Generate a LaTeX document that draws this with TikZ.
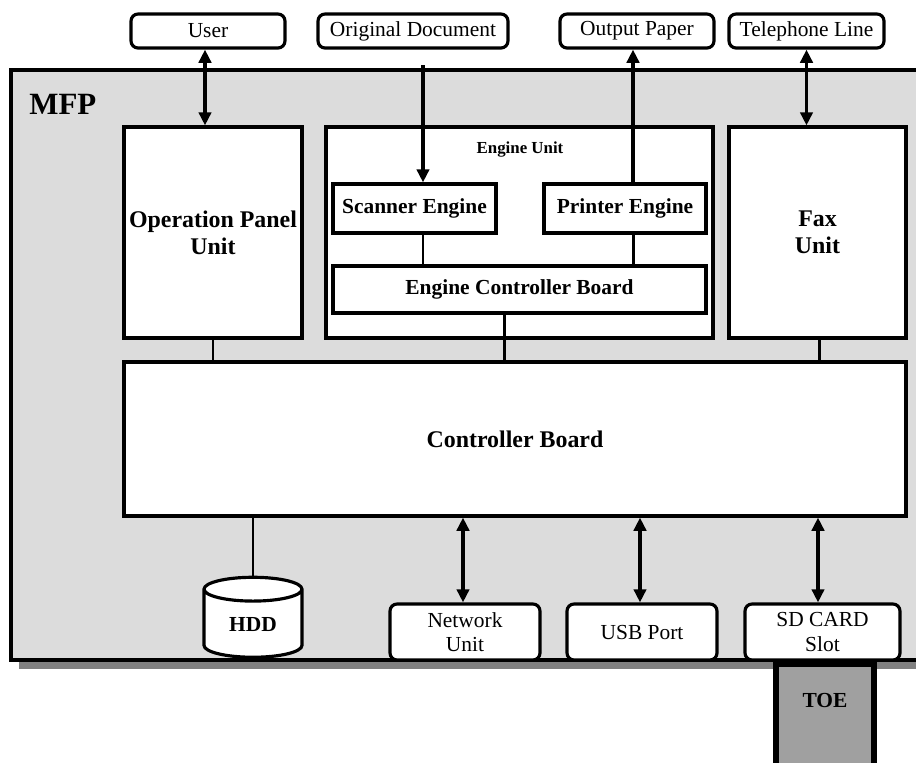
\documentclass[tikz,border=0pt]{standalone}
\usepackage{fontspec}
\setmainfont{Liberation Serif}
\usetikzlibrary{shapes.geometric,arrows.meta}

\definecolor{housingfill}{HTML}{DCDCDC}
\definecolor{shadowgray}{HTML}{808080}
\definecolor{toegray}{HTML}{A0A0A0}

\tikzset{
  box/.style={draw, line width=1.8pt, fill=white, inner sep=0pt, align=center},
  ext/.style={draw, line width=1.8pt, fill=white, rounded corners=4pt, inner sep=0pt,
    align=center, font=\fontsize{12.2}{13.7}\selectfont},
  lbl/.style={font=\bfseries\fontsize{12.2}{14}\selectfont},
  big/.style={font=\bfseries\fontsize{13.6}{15.4}\selectfont},
  tip/.tip={Triangle[length=7.5pt,width=7pt]},
  arr/.style={line width=2pt, -tip},
  dbl/.style={line width=2pt, tip-tip},
  link/.style={line width=1.7pt},
}

\begin{document}
\begin{tikzpicture}[x=0.02cm, y=-0.02cm]
\useasboundingbox[fill=white] (0,0) rectangle (916,762);

% MFP housing
\fill[shadowgray] (19,79) rectangle (940,669);
\draw[line width=1.8pt, fill=housingfill] (11,70) rectangle (940,660);
\node[font=\bfseries\fontsize{17.6}{20}\selectfont, anchor=west, inner sep=0pt] (mfp) at (29,104) {MFP};

% outside
\node[ext, minimum width=3.08cm, minimum height=0.68cm] (user) at (208,31) {User};
\node[ext, minimum width=3.80cm, minimum height=0.68cm] (orig) at (413,31) {Original Document};
\node[ext, minimum width=3.08cm, minimum height=0.68cm] (outp) at (637,31) {Output Paper};
\node[ext, minimum width=3.10cm, minimum height=0.68cm] (tel) at (806.5,31) {Telephone Line};

% units
\node[box, big, minimum width=3.56cm, minimum height=4.22cm] (panel) at (213,232.5) {Operation Panel\\Unit};
\node[box, minimum width=7.74cm, minimum height=4.22cm] (engine) at (519.5,232.5) {};
\node[font=\bfseries\fontsize{9.6}{11}\selectfont, inner sep=0pt] (englbl) at (520,150) {Engine Unit};
\node[box, lbl, minimum width=3.26cm, minimum height=0.98cm] (scan) at (414.5,208.5) {Scanner Engine};
\node[box, lbl, minimum width=3.24cm, minimum height=0.98cm] (prn) at (625,208.5) {Printer Engine};
\node[box, lbl, minimum width=7.46cm, minimum height=0.94cm] (ecb) at (519.5,289.5) {Engine Controller Board};
\node[box, big, minimum width=3.54cm, minimum height=4.22cm] (fax) at (817.5,232.5) {Fax\\Unit};
\node[box, big, minimum width=15.64cm, minimum height=3.08cm] (cb) at (515,439) {Controller Board};

% devices
\node[cylinder, shape border rotate=90, draw, line width=1.8pt, fill=white, aspect=0.5,
  minimum width=1.96cm, minimum height=1.6cm, inner sep=0pt, lbl] (hdd) at (253,624) {HDD};
\node[ext, minimum width=3.00cm, minimum height=1.12cm] (net) at (465,632) {Network\\Unit};
\node[ext, minimum width=3.00cm, minimum height=1.12cm] (usb) at (642,632) {USB Port};
\node[ext, minimum width=3.10cm, minimum height=1.12cm] (sd) at (822.5,632) {SD CARD\\Slot};

% connectors
\draw[dbl] ([xshift=-0.06cm]user.south) -- ([xshift=-0.06cm]user.south |- panel.north);
\draw[arr, shorten <=9pt] ([xshift=0.2cm]orig.south) -- ([xshift=0.2cm]orig.south |- scan.north);
\draw[arr] ([xshift=-0.08cm]outp.south |- prn.north) -- ([xshift=-0.08cm]outp.south);
\draw[dbl] (tel.south) -- (tel.south |- fax.north);
\draw[link] ([xshift=0.2cm]orig.south |- scan.south) -- ([xshift=0.2cm]orig.south |- ecb.north);
\draw[link] ([xshift=-0.08cm]outp.south |- prn.south) -- ([xshift=-0.08cm]outp.south |- ecb.north);
\draw[link] (panel.south) -- (panel.south |- cb.north);
\draw[link] ([xshift=-0.31cm]ecb.south) -- ([xshift=-0.31cm]ecb.south |- cb.north);
\draw[link] ([xshift=0.03cm]fax.south) -- ([xshift=0.03cm]fax.south |- cb.north);
\draw[link] (hdd.north |- cb.south) -- (hdd.north);
\draw[dbl] ([xshift=-0.04cm]net.north |- cb.south) -- ([xshift=-0.04cm]net.north);
\draw[dbl] ([xshift=-0.04cm]usb.north |- cb.south) -- ([xshift=-0.04cm]usb.north);
\draw[dbl] ([xshift=-0.09cm]sd.north |- cb.south) -- ([xshift=-0.09cm]sd.north);

% TOE
\node[draw, line width=3.4pt, fill=toegray, minimum width=1.96cm, minimum height=2.3cm,
  anchor=north, inner sep=0pt] (toe) at (825,661) {};
\node[lbl, inner sep=0pt] (toetxt) at ([yshift=-0.8cm]toe.north) {TOE};
\end{tikzpicture}
\end{document}
